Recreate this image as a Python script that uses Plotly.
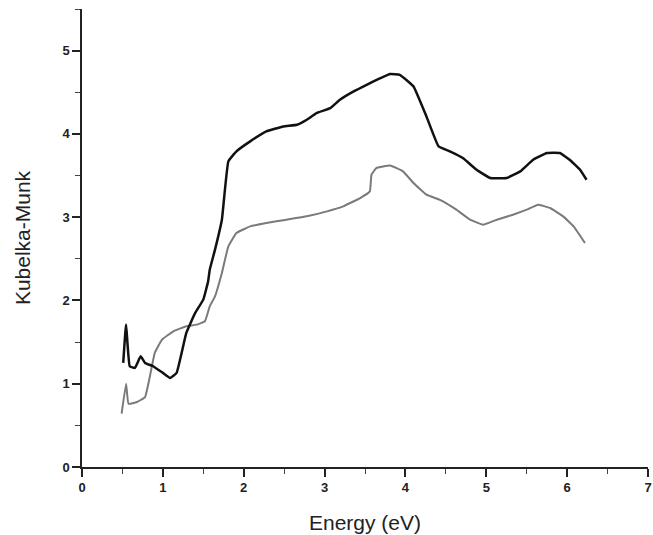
import plotly.graph_objects as go

# Kubelka-Munk spectra vs photon energy (eV)
energy_dark = [0.51, 0.545, 0.59, 0.655, 0.725, 0.78, 0.88, 1.0, 1.09, 1.17, 1.29, 1.40, 1.50, 1.56,
               1.58, 1.645, 1.73, 1.81, 1.91, 2.08, 2.28, 2.49, 2.66, 2.78, 2.90, 3.07, 3.19,
               3.36, 3.52, 3.69, 3.81, 3.93, 4.10, 4.26, 4.41, 4.55, 4.71, 4.88, 5.05, 5.25,
               5.42, 5.58, 5.75, 5.91, 6.03, 6.16, 6.24]
km_dark = [1.25, 1.71, 1.21, 1.19, 1.33, 1.25, 1.21, 1.13, 1.07, 1.13, 1.61, 1.85, 2.01, 2.23,
           2.37, 2.61, 2.97, 3.67, 3.79, 3.91, 4.03, 4.09, 4.11, 4.17, 4.25, 4.31, 4.41,
           4.51, 4.59, 4.67, 4.72, 4.71, 4.57, 4.21, 3.85, 3.79, 3.71, 3.57, 3.47, 3.47,
           3.55, 3.69, 3.77, 3.77, 3.69, 3.57, 3.45]

energy_grey = [0.49, 0.545, 0.575, 0.68, 0.78, 0.84, 0.90, 0.99, 1.13, 1.29, 1.42, 1.52, 1.58,
               1.645, 1.73, 1.81, 1.91, 2.08, 2.28, 2.53, 2.78, 3.03, 3.23, 3.44, 3.56, 3.58,
               3.64, 3.81, 3.97, 4.10, 4.26, 4.42, 4.63, 4.80, 4.96, 5.13, 5.33, 5.50, 5.64,
               5.79, 5.95, 6.08, 6.22]
km_grey = [0.64, 1.00, 0.76, 0.78, 0.84, 1.09, 1.37, 1.53, 1.63, 1.69, 1.71, 1.75, 1.93,
           2.05, 2.33, 2.65, 2.81, 2.89, 2.93, 2.97, 3.01, 3.07, 3.13, 3.23, 3.31, 3.51,
           3.59, 3.62, 3.55, 3.41, 3.27, 3.21, 3.09, 2.97, 2.91, 2.97, 3.03, 3.09, 3.15,
           3.11, 3.01, 2.89, 2.69]

x_ticks = [0, 1, 2, 3, 4, 5, 6, 7]
y_ticks = [0, 1, 2, 3, 4, 5]

fig = go.Figure()
fig.add_trace(go.Scatter(x=energy_grey, y=km_grey, mode="lines",
                         line=dict(color="#7a7a7a", width=2, shape="spline", smoothing=0.3),
                         showlegend=False))
fig.add_trace(go.Scatter(x=energy_dark, y=km_dark, mode="lines",
                         line=dict(color="#111111", width=2.5, shape="spline", smoothing=0.3),
                         showlegend=False))

axis_common = dict(
    showgrid=False, zeroline=False, showline=True, linecolor="#222", linewidth=1.5,
    ticks="outside", ticklen=8, tickcolor="#222", tickwidth=1.5, automargin=False,
    tickfont=dict(family="Liberation Sans, Arial", size=13, color="#222", weight="bold"),
    minor=dict(dtick=0.5, ticks="outside", ticklen=5, tickcolor="#444", tickwidth=1),
)

fig.update_xaxes(range=[0, 7], tickvals=x_ticks, **axis_common,
                 title=dict(text="Energy (eV)", standoff=21,
                            font=dict(family="Liberation Sans, Arial", size=21, color="#222")))
fig.update_yaxes(range=[0, 5.5], tickvals=y_ticks, **axis_common,
                 title=dict(text="Kubelka-Munk", standoff=26,
                            font=dict(family="Liberation Sans, Arial", size=21, color="#222")))

fig.update_layout(
    width=653, height=535,
    margin=dict(l=82, r=5, t=9, b=68),
    paper_bgcolor="white", plot_bgcolor="white",
)

fig.write_html("out.html")
